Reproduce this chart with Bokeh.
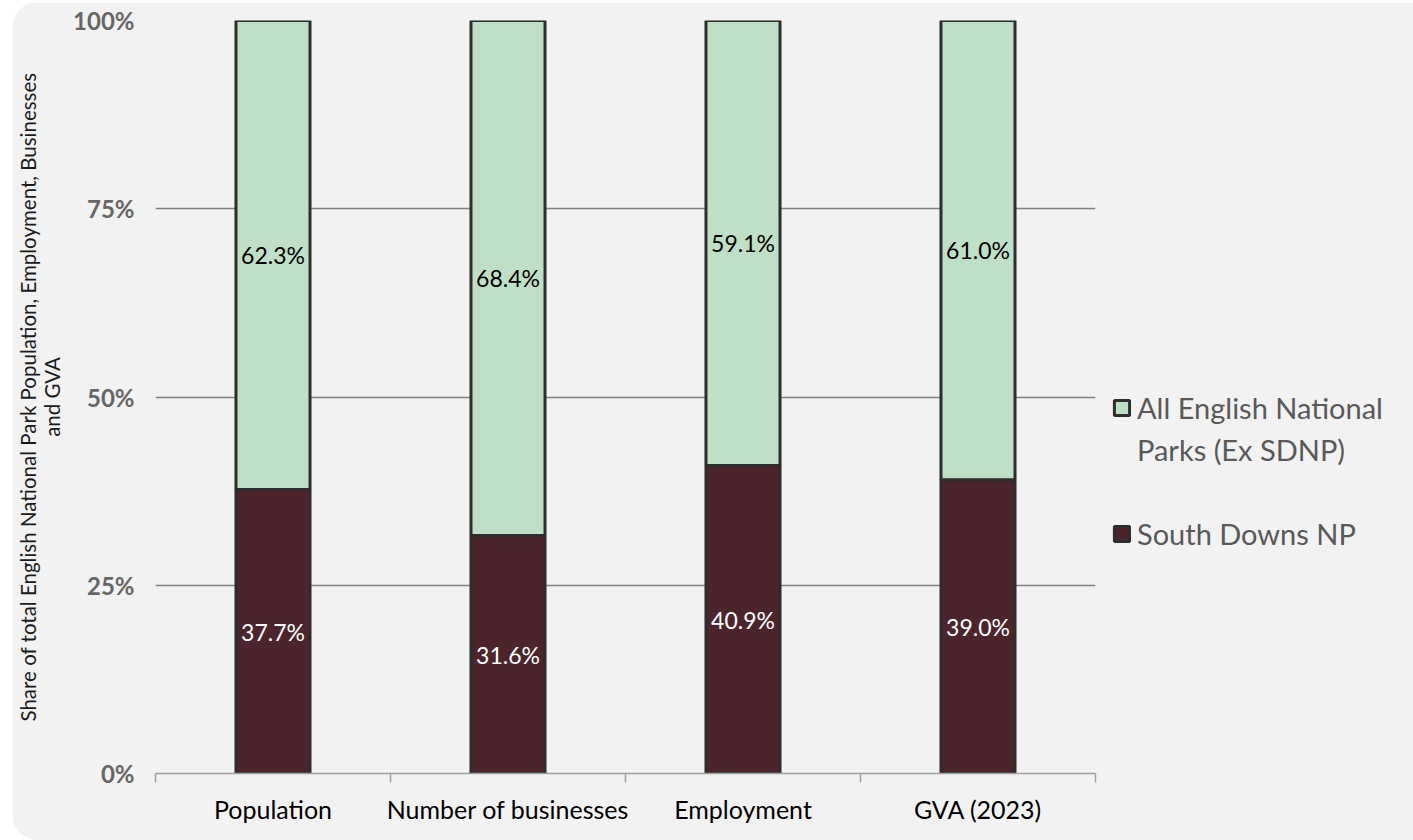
from bokeh.plotting import figure
from bokeh.models import ColumnDataSource, FixedTicker, Legend, LegendItem, NumeralTickFormatter
from bokeh.core.properties import value
from bokeh.embed import file_html
from bokeh.resources import INLINE

categories = ["Population", "Number of businesses", "Employment", "GVA (2023)"]
south_downs = [37.7, 31.6, 40.9, 39.0]
other_parks = [62.3, 68.4, 59.1, 61.0]
y_ticks = [0, 25, 50, 75, 100]
legend_labels = ["All English National", "Parks (Ex SDNP)", "South Downs NP"]

FONT = "Lato"
BG = "#f2f2f2"
GREEN = "#c0dfc7"
MAROON = "#4b252b"
EDGE = "#2d2d2d"

xs = [i + 0.5 for i in range(len(categories))]
sd = [v / 100 for v in south_downs]
op = [v / 100 for v in other_parks]
tops = [a + b for a, b in zip(sd, op)]

src = ColumnDataSource(dict(
    x=xs, sd=sd, op=op, top=tops,
    sd_mid=[a / 2 for a in sd],
    op_mid=[a + b / 2 for a, b in zip(sd, op)],
    sd_lab=[f"{v:.1f}%" for v in south_downs],
    op_lab=[f"{v:.1f}%" for v in other_parks],
    zero=[0] * len(xs),
))

p = figure(frame_width=940, frame_height=753, x_range=(0, len(categories)), y_range=(0, 1),
           output_backend="svg", toolbar_location=None,
           min_border_left=143, min_border_right=312, min_border_top=18, min_border_bottom=67)
p.styles = {"border-radius": "26px", "overflow": "hidden", "margin-left": "12px", "margin-top": "2px"}
p.background_fill_color = BG
p.border_fill_color = BG
p.outline_line_color = None

r_sd = p.vbar(x="x", bottom="zero", top="sd", width=0.315, source=src,
              fill_color=MAROON, line_color=EDGE, line_width=3)
r_op = p.vbar(x="x", bottom="sd", top="top", width=0.315, source=src,
              fill_color=GREEN, line_color=EDGE, line_width=3)

p.text(x="x", y="op_mid", text="op_lab", source=src, text_align="center",
       text_baseline="middle", text_font_size="23px", text_color="#000000",
       text_font=value(FONT))
p.text(x="x", y="sd_mid", text="sd_lab", source=src, text_align="center",
       text_baseline="middle", text_font_size="23px", text_color="#ffffff",
       text_font=value(FONT))

# y axis
p.yaxis.ticker = FixedTicker(ticks=[t / 100 for t in y_ticks])
p.yaxis.formatter = NumeralTickFormatter(format="0%")
p.yaxis.axis_line_color = None
p.yaxis.major_tick_line_color = None
p.yaxis.minor_tick_line_color = None
p.yaxis.major_tick_out = 0
p.yaxis.major_label_text_font = FONT
p.yaxis.major_label_text_font_style = "bold"
p.yaxis.major_label_text_font_size = "24px"
p.yaxis.major_label_text_color = "#666666"
p.yaxis.major_label_standoff = 21
p.yaxis.axis_label = "Share of total English National Park Population, Employment, Businesses\nand GVA"
p.yaxis.axis_label_text_font = FONT
p.yaxis.axis_label_text_font_style = "normal"
p.yaxis.axis_label_text_font_size = "20.5px"
p.yaxis.axis_label_text_line_height = 1.0
p.yaxis.axis_label_text_color = "#1a1a1a"
p.yaxis.axis_label_standoff = 6

# x axis
p.xaxis.ticker = FixedTicker(ticks=xs, minor_ticks=list(range(len(categories) + 1)))
p.xaxis.major_label_overrides = {x: c for x, c in zip(xs, categories)}
p.xaxis.major_tick_line_color = None
p.xaxis.major_tick_out = 0
p.xaxis.major_tick_in = 0
p.xaxis.minor_tick_out = 9
p.xaxis.minor_tick_in = 0
p.xaxis.minor_tick_line_color = "#a0a0a0"
p.xaxis.minor_tick_line_width = 1.5
p.xaxis.axis_line_color = "#a0a0a0"
p.xaxis.axis_line_width = 1.5
p.xaxis.major_label_text_font = FONT
p.xaxis.major_label_text_font_size = "25px"
p.xaxis.major_label_text_color = "#000000"
p.xaxis.major_label_standoff = 11

p.xgrid.grid_line_color = None
p.ygrid.ticker = FixedTicker(ticks=[t / 100 for t in y_ticks[1:]])
p.ygrid.grid_line_color = "#808080"
p.ygrid.grid_line_width = 1.5

legend = Legend(items=[
    LegendItem(label=legend_labels[0], renderers=[r_op]),
    LegendItem(label=legend_labels[1], renderers=[]),
    LegendItem(label=" ", renderers=[]),
    LegendItem(label=legend_labels[2], renderers=[r_sd]),
], location=(17, 222))
legend.background_fill_alpha = 0
legend.border_line_color = None
legend.label_text_font = FONT
legend.label_text_font_size = "29px"
legend.label_text_color = "#595959"
legend.glyph_width = 19
legend.glyph_height = 19
legend.spacing = 7
legend.padding = 0
legend.margin = 0
legend.label_standoff = 6
legend.label_height = 35
legend.label_text_baseline = "middle"
p.add_layout(legend, "right")

open("out.html", "w").write(file_html(p, INLINE))
